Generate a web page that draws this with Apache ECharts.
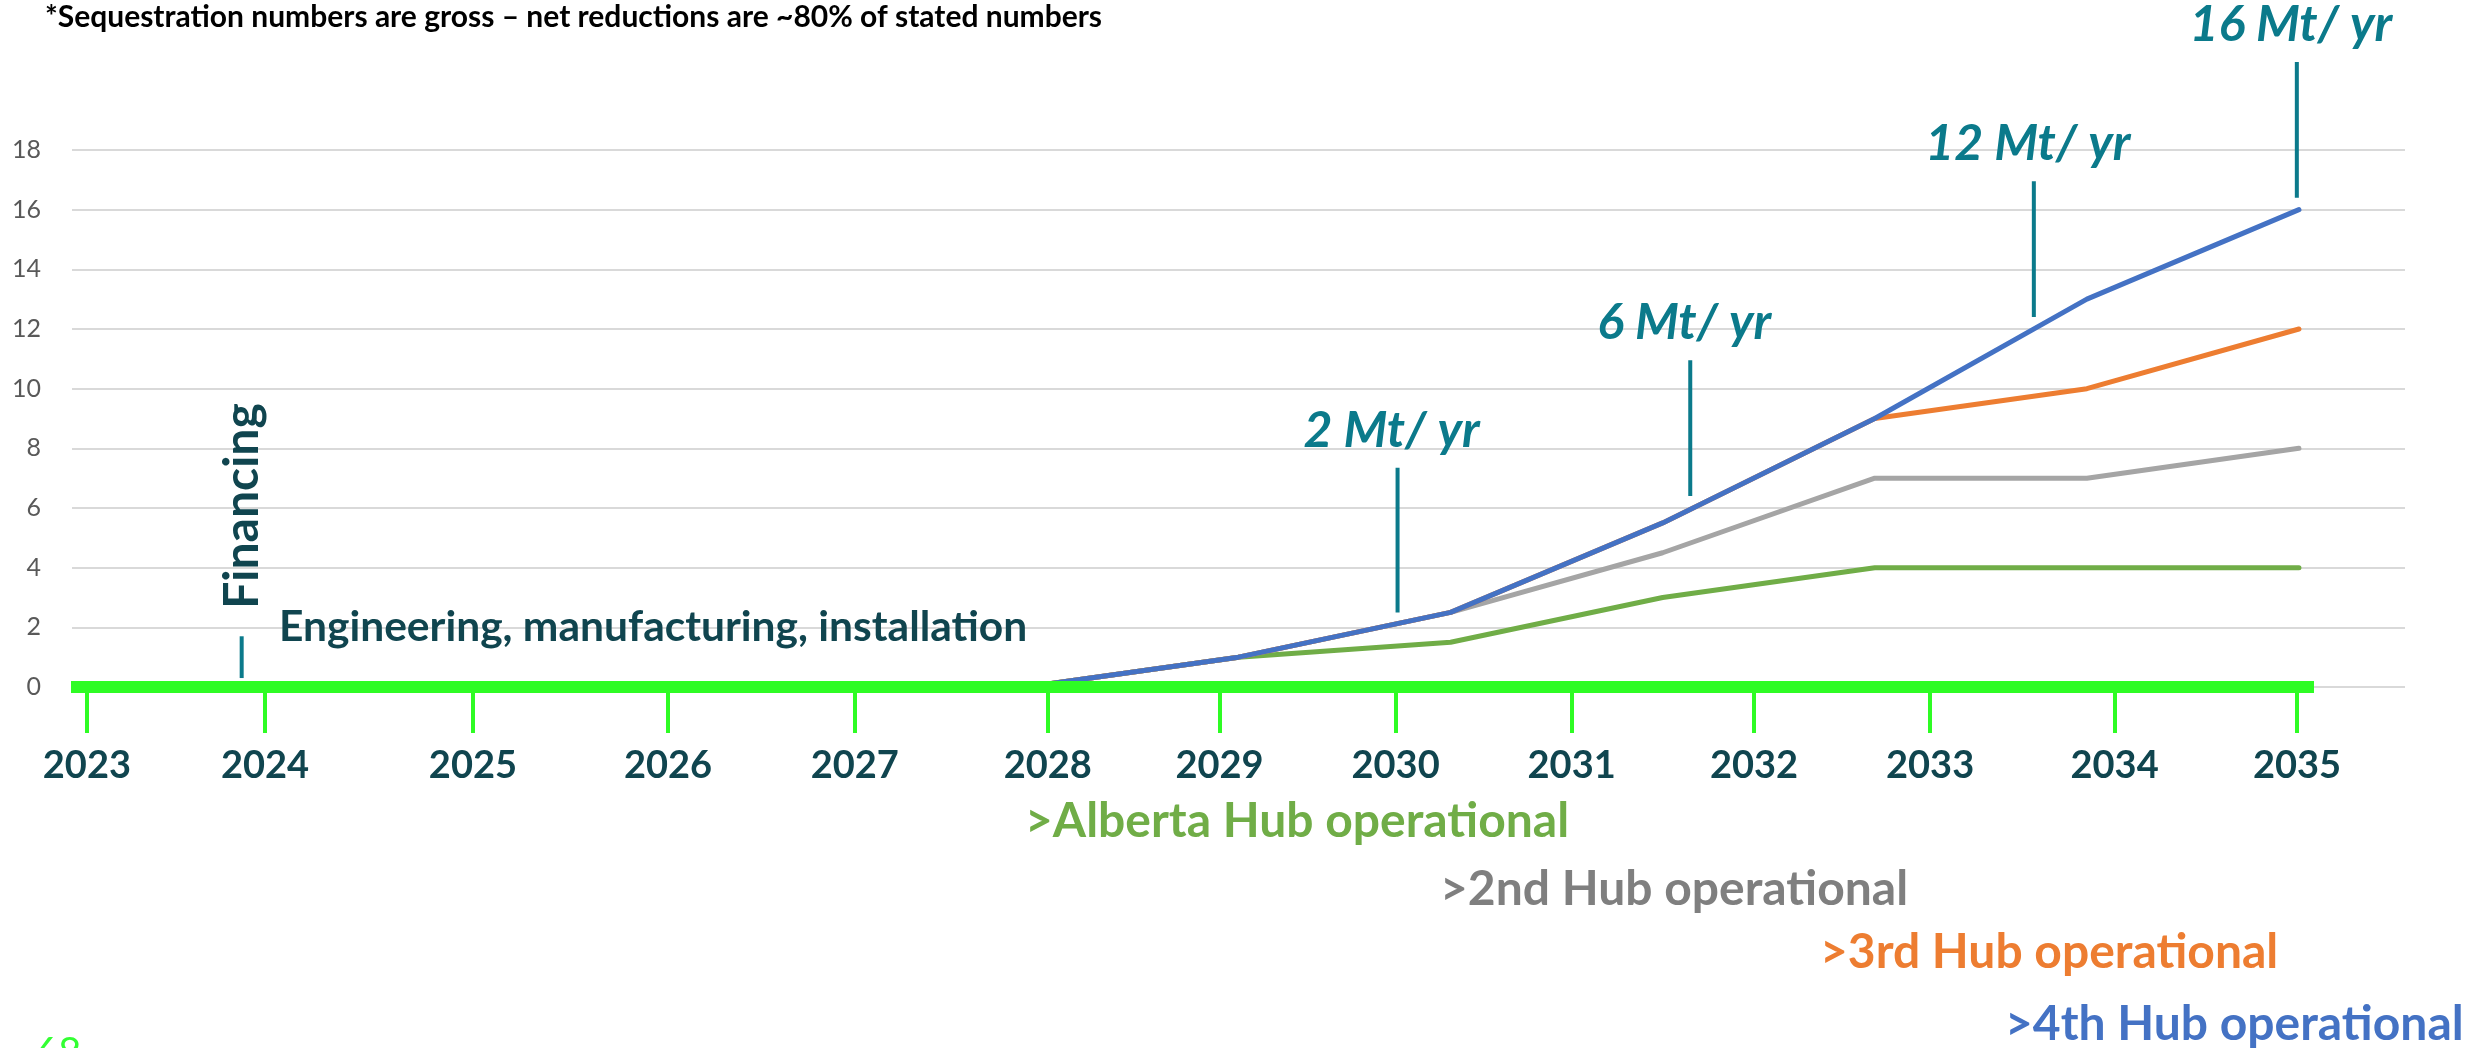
<!DOCTYPE html>
<html>
<head>
    <meta charset="utf-8">
    <title>CCS hubs timeline</title>
    <script src="https://cdn.jsdelivr.net/npm/echarts@6/dist/echarts.min.js"></script>
    <style>
        html, body { margin: 0; padding: 0; background: #fff; }
    </style>
</head>
<body>
<div id="main" style="width: 2481px;height:1048px;"></div>
<script type="text/javascript">

    // hidden category axis of the underlying line chart
    var categories = ['2025', '2026', '2027', '2028', '2029', '2030', '2031', '2032', '2033', '2034', '2035'];

    // Mt / yr sequestered, one line per hub
    var albertaHub = [0, 0, 0, 0, 0, 1, 1.5, 3, 4, 4, 4];
    var secondHub = [0, 0, 0, 0, 0, 1, 2.5, 4.5, 7, 7, 8];
    var thirdHub = [0, 0, 0, 0, 0, 1, 2.5, 5.5, 9, 10, 12];
    var fourthHub = [0, 0, 0, 0, 0, 1, 2.5, 5.5, 9, 13, 16];

    var yTicks = [0, 18, 2];   // min, max, step

    // hand drawn timeline underneath (positions in category units)
    var timelineYears = ['2023', '2024', '2025', '2026', '2027', '2028', '2029', '2030', '2031', '2032', '2033', '2034', '2035'];
    var timelinePos = [-0.43, 0.41, 1.39, 2.31, 3.19, 4.10, 4.91, 5.74, 6.57, 7.43, 8.26, 9.13, 9.99];
    var timelineSpan = [-0.505, 10.07];

    // capacity call-outs
    var calloutText = ['', '2 Mt/ yr', '6 Mt/ yr', '12 Mt/ yr', '16 Mt/ yr'];
    var calloutX = [0.30, 5.75, 7.13, 8.75, 9.99];
    var calloutLow = [0.3, 2.5, 6.4, 12.4, 16.4];
    var calloutHigh = [1.7, 7.35, 10.95, 16.95, 20.95];

    var hubLabels = ['>Alberta Hub operational', '>2nd Hub operational', '>3rd Hub operational', '>4th Hub operational'];
    var hubColors = ['#70AD47', '#A5A5A5', '#ED7D31', '#4472C4'];

    var teal = '#0b7a8b';
    var darkTeal = '#10454f';
    var limeGreen = '#2efc24';
    var font = 'Lato';

    var myChart = echarts.init(document.getElementById('main'));

    function lineSeries(name, data, color) {
        return {
            name: name,
            type: 'line',
            xAxisIndex: 0,
            yAxisIndex: 0,
            data: data,
            symbol: 'none',
            lineStyle: { color: color, width: 5, cap: 'round', join: 'round' },
            z: 2
        };
    }

    var calloutData = [];
    for (var i = 0; i < calloutX.length; i++) {
        calloutData.push([calloutX[i], calloutLow[i], calloutHigh[i]]);
    }

    var hubGraphics = [];
    var hubLeft = [1025, 1440, 1820, 2005];
    var hubTop = [822, 890, 953, 1025];
    for (var k = 0; k < hubLabels.length; k++) {
        hubGraphics.push({
            type: 'text',
            x: hubLeft[k],
            y: hubTop[k],
            z: 100,
            style: {
                text: hubLabels[k],
                fill: k === 1 ? '#7f7f7f' : hubColors[k],
                font: 'bold 48px ' + font,
                align: 'left',
                verticalAlign: 'middle'
            }
        });
    }

    option = {
        backgroundColor: '#fff',
        animation: false,
        grid: [
            { left: 72, right: 76, top: 150, bottom: 361 },
            { left: 71, right: 167, top: 650, bottom: 361 }
        ],
        xAxis: [
            {
                type: 'category',
                gridIndex: 0,
                data: categories,
                boundaryGap: true,
                axisLine: { show: false },
                axisTick: { show: false },
                axisLabel: { show: false }
            },
            {
                type: 'value',
                gridIndex: 1,
                min: timelineSpan[0],
                max: timelineSpan[1],
                z: 10,
                axisLine: { show: true, onZero: false, lineStyle: { color: limeGreen, width: 12, cap: 'butt' } },
                axisTick: {
                    show: true,
                    customValues: timelinePos,
                    length: 46,
                    lineStyle: { color: limeGreen, width: 4 }
                },
                axisLabel: {
                    show: true,
                    customValues: timelinePos,
                    margin: 60,
                    color: darkTeal,
                    fontFamily: font,
                    fontWeight: 'bold',
                    fontSize: 38,
                    formatter: function (value) {
                        var best = 0;
                        for (var j = 1; j < timelinePos.length; j++) {
                            if (Math.abs(timelinePos[j] - value) < Math.abs(timelinePos[best] - value)) best = j;
                        }
                        return timelineYears[best];
                    }
                },
                splitLine: { show: false }
            },
            {
                type: 'value',
                gridIndex: 0,
                min: -0.5,
                max: 10.5,
                show: false
            }
        ],
        yAxis: [
            {
                type: 'value',
                gridIndex: 0,
                min: yTicks[0],
                max: yTicks[1],
                interval: yTicks[2],
                axisLine: { show: false },
                axisTick: { show: false },
                axisLabel: { color: '#595959', fontSize: 25, fontFamily: font, margin: 31 },
                splitLine: { lineStyle: { color: '#d9d9d9', width: 2 } }
            },
            {
                type: 'value',
                gridIndex: 1,
                show: false
            }
        ],
        series: [
            lineSeries('Alberta Hub', albertaHub, hubColors[0]),
            lineSeries('2nd Hub', secondHub, hubColors[1]),
            lineSeries('3rd Hub', thirdHub, hubColors[2]),
            lineSeries('4th Hub', fourthHub, hubColors[3]),
            {
                name: 'callouts',
                type: 'custom',
                xAxisIndex: 2,
                yAxisIndex: 0,
                clip: false,
                z: 4,
                data: calloutData,
                renderItem: function (params, api) {
                    var low = api.coord([api.value(0), api.value(1)]);
                    var high = api.coord([api.value(0), api.value(2)]);
                    return {
                        type: 'group',
                        children: [
                            {
                                type: 'line',
                                shape: { x1: low[0], y1: low[1], x2: high[0], y2: high[1] },
                                style: { stroke: teal, lineWidth: 4 }
                            },
                            {
                                type: 'text',
                                x: high[0] - 6,
                                y: high[1] - 12,
                                style: {
                                    text: calloutText[params.dataIndex],
                                    fill: teal,
                                    font: 'italic bold 50px ' + font,
                                    align: 'center',
                                    verticalAlign: 'bottom'
                                }
                            }
                        ]
                    };
                }
            }
        ],
        graphic: [
            {
                type: 'text',
                x: 45,
                y: 17,
                z: 100,
                style: {
                    text: '*Sequestration numbers are gross \u2013 net reductions are ~80% of stated numbers',
                    fill: '#000',
                    font: 'bold 30px ' + font,
                    verticalAlign: 'middle'
                }
            },
            {
                type: 'text',
                x: 243,
                y: 506,
                z: 100,
                rotation: Math.PI / 2,
                style: {
                    text: 'Financing',
                    fill: darkTeal,
                    font: 'bold 48px ' + font,
                    align: 'center',
                    verticalAlign: 'middle'
                }
            },
            {
                type: 'text',
                x: 279,
                y: 627,
                z: 100,
                style: {
                    text: 'Engineering, manufacturing, installation',
                    fill: darkTeal,
                    font: 'bold 42.5px ' + font,
                    verticalAlign: 'middle'
                }
            },
            {
                type: 'text',
                x: 35,
                y: 1033,
                z: 100,
                style: {
                    text: '68',
                    fill: '#33ff33',
                    font: '40px ' + font,
                    verticalAlign: 'top'
                }
            }
        ].concat(hubGraphics)
    };

    myChart.setOption(option);
</script>
</body>
</html>
